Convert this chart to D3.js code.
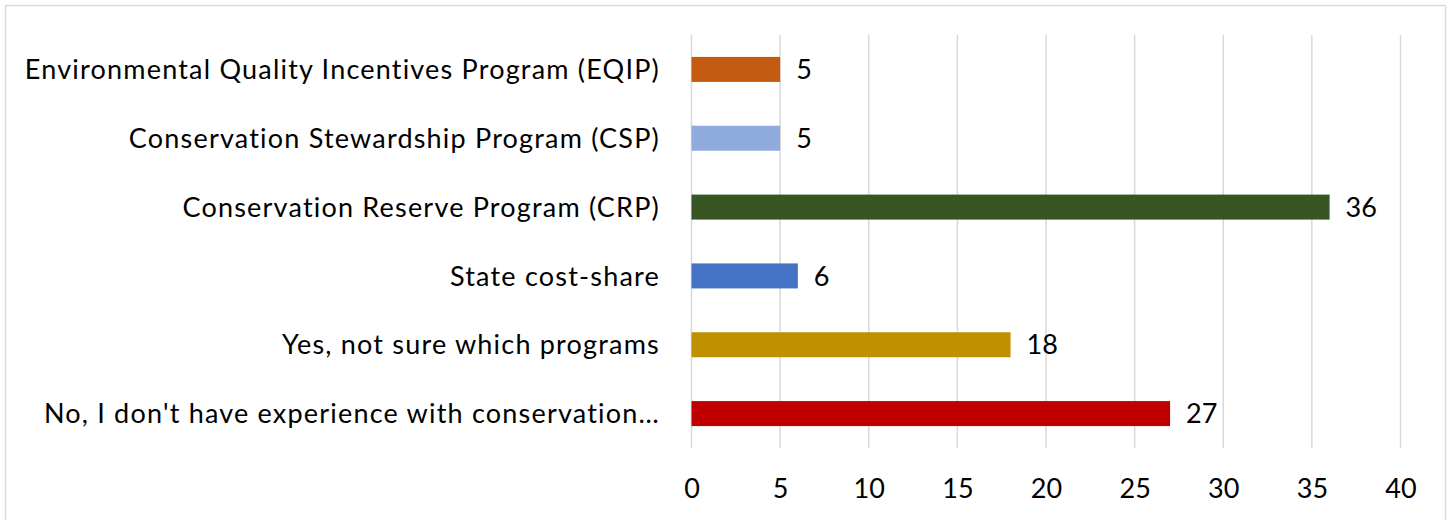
<!DOCTYPE html>
<html lang="en">
<head>
<meta charset="utf-8">
<title>Conservation programs</title>
<script src="https://d3js.org/d3.v7.min.js"></script>
<style>
  body { margin: 0; background: #fff; }
  text { font-family: Lato, "Open Sans", sans-serif; fill: #000; }
</style>
</head>
<body>
<script>
var categories = [
  "Environmental Quality Incentives Program (EQIP)",
  "Conservation Stewardship Program (CSP)",
  "Conservation Reserve Program (CRP)",
  "State cost-share",
  "Yes, not sure which programs",
  "No, I don't have experience with conservation\u2026"
];
var values = [5, 5, 36, 6, 18, 27];
var colors = ["#c55a11", "#8faadc", "#375623", "#4472c4", "#bf9000", "#c00000"];
var xTicks = [0, 5, 10, 15, 20, 25, 30, 35, 40];

var W = 1452, H = 520;
var FONT = "Lato, 'Open Sans', sans-serif";
var svg = d3.select("body").append("svg").attr("width", W).attr("height", H);

// outer frame
svg.append("rect").attr("x", 5.5).attr("y", 5.5)
  .attr("width", 1440).attr("height", 530)
  .attr("fill", "none").attr("stroke", "#d9d9d9").attr("stroke-width", 1.5);

var x = d3.scaleLinear().domain([0, 40]).range([691.5, 1400.5]);
var y = d3.scaleBand().domain(categories).range([35, 448]);
var barH = 25;

// gridlines
svg.append("g").selectAll("line").data(xTicks).join("line")
  .attr("x1", d => x(d)).attr("x2", d => x(d))
  .attr("y1", 35).attr("y2", 448)
  .attr("stroke", "#d9d9d9").attr("stroke-width", 1.5);

// x axis labels
var xAxis = svg.append("g").attr("transform", "translate(0,488)")
  .call(d3.axisBottom(x).tickValues(xTicks).tickSize(0).tickPadding(0));
xAxis.select(".domain").remove();
xAxis.selectAll("text").attr("font-size", 27).attr("dy", "0.36em")
  .style("font-family", FONT);

// y axis labels
var yAxis = svg.append("g").attr("transform", "translate(660,0)")
  .call(d3.axisLeft(y).tickSize(0).tickPadding(0));
yAxis.select(".domain").remove();
yAxis.selectAll("text").attr("font-size", 27).attr("dy", "0.36em")
  .attr("letter-spacing", "1.2px")
  .style("font-family", FONT);

// bars
var rows = categories.map((c, i) => ({ c: c, v: values[i], col: colors[i] }));
svg.append("g").selectAll("rect").data(rows).join("rect")
  .attr("x", x(0))
  .attr("y", d => y(d.c) + y.bandwidth() / 2 - barH / 2)
  .attr("width", d => x(d.v) - x(0))
  .attr("height", barH)
  .attr("fill", d => d.col);

// value labels
svg.append("g").selectAll("text").data(rows).join("text")
  .attr("x", d => x(d.v) + 16)
  .attr("y", d => y(d.c) + y.bandwidth() / 2)
  .attr("dy", "0.36em")
  .attr("font-size", 27)
  .text(d => d.v);
</script>
</body>
</html>
